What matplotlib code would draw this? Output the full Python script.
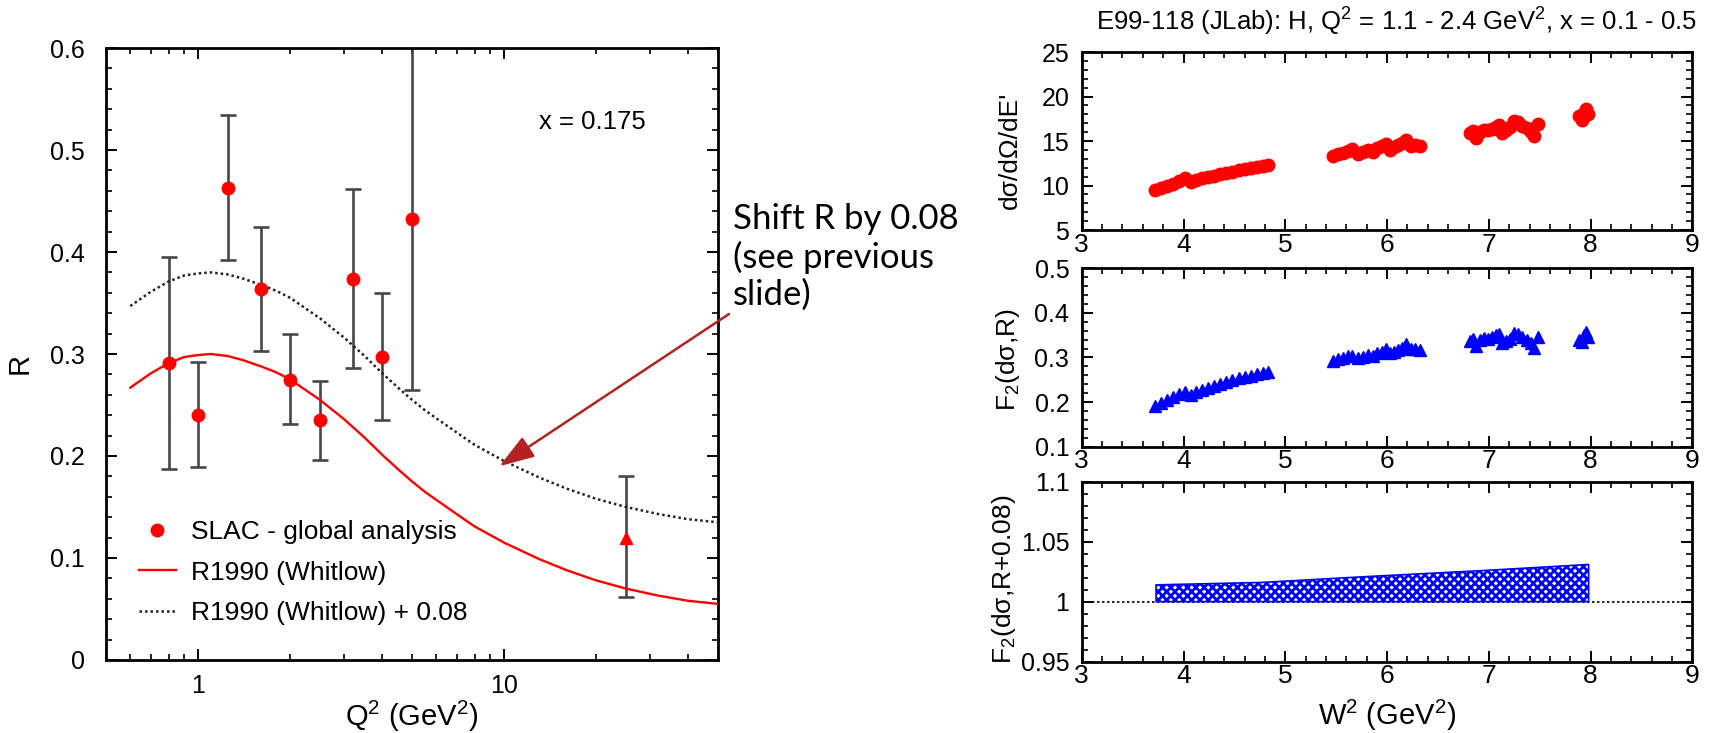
import matplotlib
matplotlib.use('Agg')
import matplotlib.pyplot as plt
import matplotlib.ticker as mt
from matplotlib.lines import Line2D

plt.rcParams['font.family'] = ['Liberation Sans', 'DejaVu Sans']
plt.rcParams['mathtext.fontset'] = 'custom'
plt.rcParams['mathtext.rm'] = 'Liberation Sans'
plt.rcParams['mathtext.it'] = 'Liberation Sans:italic'
plt.rcParams['mathtext.bf'] = 'Liberation Sans:bold'
plt.rcParams['hatch.linewidth'] = 2.0
plt.rcParams['hatch.color'] = 'blue'

# ---- left: SLAC global analysis, x = 0.175
slac_q2 = [0.8, 1.0, 1.25, 1.6, 2.0, 2.5, 3.2, 4.0, 5.0]
slac_r = [0.291, 0.240, 0.463, 0.364, 0.275, 0.235, 0.374, 0.297, 0.432]
slac_hi = [0.395, 0.292, 0.534, 0.425, 0.320, 0.274, 0.462, 0.360, 0.62]
slac_lo = [0.187, 0.189, 0.392, 0.303, 0.231, 0.196, 0.286, 0.235, 0.265]

tri_q2 = [25.0]
tri_r = [0.120]
tri_hi = [0.180]
tri_lo = [0.0615]

# R1990 (Whitlow)
curve_q2 = [0.6, 0.7, 0.8, 0.9, 1.0, 1.1, 1.25, 1.4, 1.6, 1.8, 2.0, 2.5, 3.0, 3.5,
            4.0, 4.5, 5.0, 5.5, 6.0, 7.0, 8.0, 10, 13, 16, 20, 25, 32, 40, 50]
r1990 = [0.267, 0.281, 0.291, 0.297, 0.299, 0.300, 0.298, 0.294, 0.288, 0.282, 0.275,
         0.255, 0.236, 0.218, 0.201, 0.187, 0.175, 0.165, 0.157, 0.143, 0.131, 0.115,
         0.099, 0.088, 0.078, 0.070, 0.063, 0.058, 0.055]
shift = 0.08
r1990_shift = [v + shift for v in r1990]

# ---- right: E99-118 (JLab)
w2 = [3.72, 3.78, 3.84, 3.90, 3.96, 4.01, 4.07, 4.12, 4.18, 4.24, 4.30, 4.36, 4.42, 4.48,
      4.54, 4.60, 4.66, 4.72, 4.78, 4.83,
      5.47, 5.52, 5.57, 5.62, 5.66, 5.71, 5.76, 5.81, 5.86, 5.90, 5.95, 5.99, 6.03, 6.07,
      6.11, 6.15, 6.19, 6.23, 6.27, 6.32,
      6.81, 6.84, 6.87, 6.91, 6.95, 6.99, 7.03, 7.07, 7.10, 7.13, 7.17, 7.21, 7.25, 7.29,
      7.33, 7.37, 7.41, 7.44, 7.48,
      7.89, 7.91, 7.93, 7.95, 7.97]
xsec = [9.45, 9.7, 9.95, 10.2, 10.5, 10.8, 10.35, 10.6, 10.8, 10.95, 11.1, 11.25, 11.4, 11.55,
        11.7, 11.85, 12.0, 12.1, 12.2, 12.3,
        13.35, 13.5, 13.65, 13.9, 14.05, 13.5, 13.8, 14.0, 13.8, 14.2, 14.4, 14.65, 14.0, 14.3,
        14.6, 14.8, 15.15, 14.4, 14.5, 14.45,
        15.95, 16.1, 15.3, 16.0, 16.2, 16.2, 16.4, 16.6, 16.8, 15.9, 16.2, 16.6, 17.2, 17.1,
        16.7, 16.5, 16.0, 15.6, 16.9,
        17.8, 17.4, 18.2, 18.6, 18.0]
f2 = [0.192, 0.198, 0.204, 0.212, 0.218, 0.222, 0.216, 0.222, 0.227, 0.232, 0.237, 0.241, 0.245,
      0.249, 0.253, 0.256, 0.259, 0.262, 0.265, 0.268,
      0.292, 0.296, 0.299, 0.303, 0.304, 0.298, 0.302, 0.305, 0.304, 0.309, 0.313, 0.318, 0.309,
      0.313, 0.317, 0.321, 0.330, 0.318, 0.320, 0.317,
      0.338, 0.342, 0.326, 0.340, 0.343, 0.342, 0.345, 0.350, 0.353, 0.332, 0.336, 0.342, 0.355,
      0.352, 0.345, 0.340, 0.333, 0.322, 0.345,
      0.340, 0.335, 0.350, 0.358, 0.345]

band_w2 = [3.73, 4.76, 5.82, 6.96, 7.98]
band_lo = [1.0, 1.0, 1.0, 1.0, 1.0]
band_hi = [1.014, 1.016, 1.021, 1.026, 1.031]


def style_ticks(ax, size):
    ax.tick_params(which='both', direction='in', top=True, right=True, labelsize=size)
    ax.tick_params(which='major', length=8, width=1.4)
    ax.tick_params(which='minor', length=4, width=1.2)
    for s in ax.spines.values():
        s.set_linewidth(2.0)


fig = plt.figure(figsize=(17.13, 7.33), dpi=100)

# ---------------- left plot
ax = fig.add_axes([0.0619, 0.0996, 0.3573, 0.8349])
err_lo = [r - lo for r, lo in zip(slac_r, slac_lo)]
err_hi = [hi - r for r, hi in zip(slac_r, slac_hi)]
bar_col = '#474747'
ax.errorbar(slac_q2, slac_r, yerr=[err_lo, err_hi], fmt='none', ecolor=bar_col,
            elinewidth=1.9, capsize=6, capthick=1.9, zorder=2)
ax.errorbar(tri_q2, tri_r, yerr=[[tri_r[0] - tri_lo[0]], [tri_hi[0] - tri_r[0]]], fmt='none',
            ecolor=bar_col, elinewidth=1.9, capsize=6, capthick=1.9, zorder=2)
ax.plot(slac_q2, slac_r, 'o', color='red', ms=9, mec='red', zorder=4)
ax.plot(tri_q2, tri_r, '^', color='red', ms=8, zorder=4)
ax.plot(curve_q2, r1990, '-', color='red', lw=1.7, zorder=3)
ax.plot(curve_q2, r1990_shift, color='#222222', lw=1.8, ls=(0, (1, 1.2)), zorder=3)

ax.set_xscale('log')
ax.set_xlim(0.5, 50)
ax.set_ylim(0, 0.6)
ax.yaxis.set_major_locator(mt.MultipleLocator(0.1))
ax.yaxis.set_minor_locator(mt.MultipleLocator(0.02))
ax.yaxis.set_major_formatter(mt.FuncFormatter(lambda v, p: f'{v:g}'))
ax.xaxis.set_major_locator(mt.LogLocator(base=10))
ax.xaxis.set_minor_locator(mt.LogLocator(base=10, subs=range(2, 10)))
ax.xaxis.set_major_formatter(mt.FuncFormatter(lambda v, p: f'{v:g}'))
ax.xaxis.set_minor_formatter(mt.NullFormatter())
style_ticks(ax, 18)
ax.tick_params(axis='x', which='both', pad=10)
ax.tick_params(axis='y', which='both', pad=15)
ax.set_xlabel('Q$^2$ (GeV$^2$)', fontsize=21)
ax.set_ylabel('R', fontsize=21)
ax.xaxis.set_label_coords(0.5, -0.064)
ax.yaxis.set_label_coords(-0.118, 0.485)
ax.text(0.794, 0.879, 'x = 0.175', transform=ax.transAxes, ha='center', va='center',
        fontsize=18.5)

handles = [Line2D([], [], ls='none', marker='o', color='red', ms=9),
           Line2D([], [], color='red', lw=1.7),
           Line2D([], [], color='#222222', lw=1.8, ls=(0, (1, 1.2)))]
labels = ['SLAC - global analysis', 'R1990 (Whitlow)', 'R1990 (Whitlow) + 0.08']
ax.legend(handles, labels, loc='lower left', bbox_to_anchor=(0.036, 0.04), frameon=False,
          fontsize=19, handlelength=1.4, handletextpad=0.6, labelspacing=0.62,
          borderaxespad=0)

ax.annotate('', xy=(9.65, 0.19), xycoords='data', xytext=(729 / 1713, 1 - 314 / 733),
            textcoords='figure fraction', annotation_clip=False,
            arrowprops=dict(arrowstyle='-|>,head_length=0.9,head_width=0.3', color='#b52020',
                            lw=1.8, mutation_scale=24, shrinkA=0, shrinkB=0))
fig.text(733 / 1713, 1 - 203 / 733, 'Shift R by 0.08\n(see previous\nslide)',
         family=['Lato', 'DejaVu Sans'], fontsize=25, va='top', ha='left', linespacing=1.2)

# ---------------- right panels
left, width = 0.6315, 0.3565
ax1 = fig.add_axes([left, 0.6862, width, 0.2428])
ax2 = fig.add_axes([left, 0.3906, width, 0.2434])
ax3 = fig.add_axes([left, 0.0973, width, 0.2456])

ax1.plot(w2, xsec, 'o', color='red', ms=9, mec='red')
ax1.set_ylim(5, 25)
ax1.yaxis.set_major_locator(mt.MultipleLocator(5))
ax1.yaxis.set_minor_locator(mt.MultipleLocator(1))
ax1.set_ylabel("dσ/dΩ/dE'", fontsize=19)
ax1.yaxis.set_label_coords(-0.098, 0.45)

ax2.plot(w2, f2, '^', color='blue', ms=9, mec='blue')
ax2.set_ylim(0.1, 0.5)
ax2.yaxis.set_major_locator(mt.MultipleLocator(0.1))
ax2.yaxis.set_minor_locator(mt.MultipleLocator(0.02))
ax2.set_ylabel('F$_2$(dσ,R)', fontsize=19)
ax2.yaxis.set_label_coords(-0.098, 0.486)

ax3.fill_between(band_w2, band_lo, band_hi, facecolor='white', edgecolor='blue',
                 hatch='xxxx', linewidth=1.2)
ax3.axhline(1.0, color='black', lw=1.2, ls=(0, (1.5, 1.5)), zorder=0)
ax3.set_ylim(0.95, 1.1)
ax3.yaxis.set_major_locator(mt.MultipleLocator(0.05))
ax3.yaxis.set_minor_locator(mt.MultipleLocator(0.01))
ax3.set_ylabel('F$_2$(dσ,R+0.08)', fontsize=19)
ax3.yaxis.set_label_coords(-0.104, 0.46)
ax3.set_xlabel('W$^2$ (GeV$^2$)', fontsize=21)
ax3.xaxis.set_label_coords(0.5, -0.2)

for a in (ax1, ax2, ax3):
    a.set_xlim(3, 9)
    a.xaxis.set_major_locator(mt.MultipleLocator(1))
    a.xaxis.set_minor_locator(mt.MultipleLocator(0.2))
    a.yaxis.set_major_formatter(mt.FuncFormatter(lambda v, p: f'{v:g}'))
    style_ticks(a, 19)
    a.tick_params(axis='y', which='both', labelsize=18, pad=9)
    a.tick_params(axis='x', which='both', pad=2)

fig.text(1397 / 1713, 1 - 22 / 733, 'E99-118 (JLab): H, Q$^2$ = 1.1 - 2.4 GeV$^2$, x = 0.1 - 0.5',
         ha='center', va='center', fontsize=18.5)

fig.savefig('out.png', dpi=100)
